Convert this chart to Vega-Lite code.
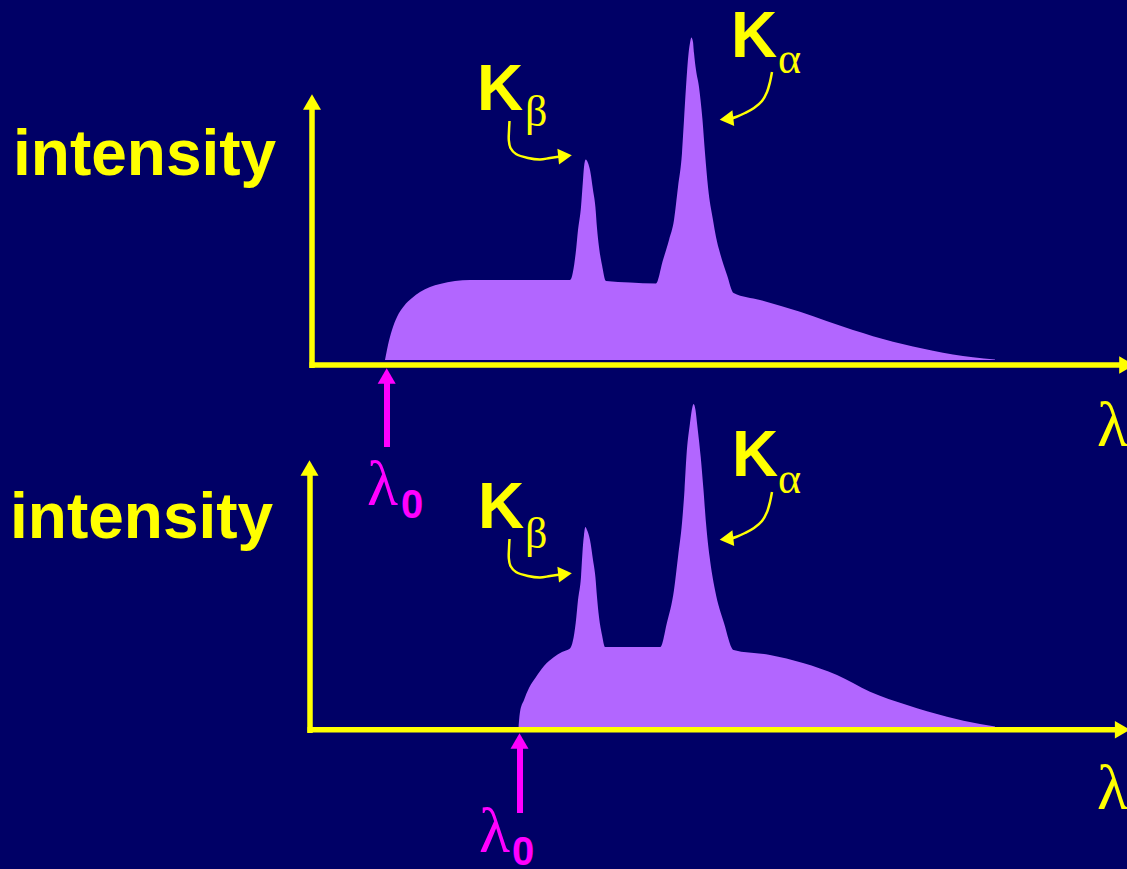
{
  "$schema": "https://vega.github.io/schema/vega-lite/v6.json",
  "width": 1127,
  "height": 869,
  "autosize": {"type": "none"},
  "padding": 0,
  "background": "#000066",
  "config": {"view": {"stroke": null}},
  "encoding": {
    "x": {"field": "x", "type": "quantitative", "scale": {"domain": [0, 1127], "nice": false, "zero": false}, "axis": null},
    "y": {"field": "y", "type": "quantitative", "scale": {"domain": [0, 869], "reverse": true, "nice": false, "zero": false}, "axis": null}
  },
  "layer": [
    {
      "data": {"values": [
        {"x": 385, "y": 360}, {"x": 388, "y": 345}, {"x": 392, "y": 330}, {"x": 397, "y": 317}, {"x": 404, "y": 306},
        {"x": 412, "y": 298}, {"x": 420, "y": 292}, {"x": 430, "y": 287}, {"x": 440, "y": 284}, {"x": 455, "y": 281},
        {"x": 470, "y": 280}, {"x": 500, "y": 280}, {"x": 540, "y": 280}, {"x": 570, "y": 280},
        {"x": 575.7, "y": 253}, {"x": 578, "y": 230}, {"x": 581, "y": 207}, {"x": 583, "y": 180}, {"x": 584, "y": 167},
        {"x": 585.7, "y": 159.5}, {"x": 588, "y": 163}, {"x": 590, "y": 170}, {"x": 593, "y": 190}, {"x": 595.4, "y": 207},
        {"x": 597, "y": 228}, {"x": 599, "y": 247}, {"x": 602, "y": 265}, {"x": 606, "y": 281},
        {"x": 630, "y": 282.5}, {"x": 656, "y": 283.5},
        {"x": 663, "y": 260}, {"x": 669, "y": 240}, {"x": 674, "y": 220}, {"x": 678, "y": 187}, {"x": 682, "y": 153},
        {"x": 684, "y": 120}, {"x": 686, "y": 87}, {"x": 688.6, "y": 53}, {"x": 690, "y": 43}, {"x": 691.4, "y": 37.5},
        {"x": 693, "y": 42}, {"x": 694, "y": 53}, {"x": 696, "y": 70}, {"x": 699, "y": 87}, {"x": 702.5, "y": 120},
        {"x": 705, "y": 153}, {"x": 708, "y": 187}, {"x": 713, "y": 220}, {"x": 716, "y": 237}, {"x": 720, "y": 253},
        {"x": 727, "y": 275}, {"x": 733.6, "y": 293},
        {"x": 760, "y": 300}, {"x": 800, "y": 311.7}, {"x": 853, "y": 330}, {"x": 893, "y": 341.7}, {"x": 933, "y": 350.7},
        {"x": 973, "y": 357.3}, {"x": 995, "y": 359.5}
      ]},
      "mark": {"type": "area", "color": "#B266FF", "opacity": 1, "interpolate": "monotone"},
      "encoding": {"y2": {"datum": 360}}
    },
    {
      "data": {"values": [
        {"x": 518.6, "y": 727}, {"x": 520, "y": 712}, {"x": 524, "y": 700}, {"x": 529, "y": 688}, {"x": 536, "y": 677},
        {"x": 544, "y": 666}, {"x": 554, "y": 657}, {"x": 562, "y": 652}, {"x": 570, "y": 648.5},
        {"x": 575.7, "y": 623}, {"x": 578, "y": 600}, {"x": 581, "y": 577}, {"x": 583, "y": 545}, {"x": 584, "y": 535},
        {"x": 585.4, "y": 527}, {"x": 587, "y": 530}, {"x": 590, "y": 540}, {"x": 593, "y": 560}, {"x": 595.4, "y": 577},
        {"x": 597, "y": 597}, {"x": 599, "y": 617}, {"x": 602, "y": 635}, {"x": 605, "y": 647},
        {"x": 630, "y": 647}, {"x": 660.4, "y": 647},
        {"x": 666.8, "y": 623.3}, {"x": 674, "y": 590}, {"x": 678, "y": 557}, {"x": 682, "y": 523}, {"x": 684.5, "y": 490},
        {"x": 686.4, "y": 456.7}, {"x": 690, "y": 423}, {"x": 691.8, "y": 410}, {"x": 693.6, "y": 404},
        {"x": 695.5, "y": 410}, {"x": 697, "y": 423}, {"x": 700.7, "y": 456.7}, {"x": 703.5, "y": 490}, {"x": 706, "y": 523},
        {"x": 709.6, "y": 556.7}, {"x": 715, "y": 590}, {"x": 724, "y": 623}, {"x": 733.6, "y": 650},
        {"x": 770, "y": 655}, {"x": 803, "y": 663}, {"x": 837, "y": 675}, {"x": 870, "y": 691.7}, {"x": 907, "y": 705},
        {"x": 947, "y": 716.7}, {"x": 980, "y": 724}, {"x": 995, "y": 726.5}
      ]},
      "mark": {"type": "area", "color": "#B266FF", "opacity": 1, "interpolate": "monotone"},
      "encoding": {"y2": {"datum": 727}}
    },
    {
      "data": {"values": [
        {"x": 312, "y": 368, "x2": 312, "y2": 106},
        {"x": 309.5, "y": 365, "x2": 1122, "y2": 365},
        {"x": 310, "y": 733, "x2": 310, "y2": 472},
        {"x": 307.5, "y": 729.7, "x2": 1117, "y2": 729.7}
      ]},
      "mark": {"type": "rule", "color": "#FFFF00", "strokeWidth": 5.5},
      "encoding": {"x2": {"field": "x2"}, "y2": {"field": "y2"}}
    },
    {
      "data": {"values": [
        {"x": 312, "y": 102},
        {"x": 309.5, "y": 468}
      ]},
      "mark": {"type": "point", "shape": "triangle-up", "filled": true, "size": 324, "color": "#FFFF00", "opacity": 1, "strokeWidth": 0}
    },
    {
      "data": {"values": [
        {"x": 1126.8, "y": 365},
        {"x": 1122.5, "y": 729.7}
      ]},
      "mark": {"type": "point", "shape": "triangle-right", "filled": true, "size": 310, "color": "#FFFF00", "opacity": 1, "strokeWidth": 0}
    },
    {
      "data": {"values": [
        {"x": 387, "y": 447, "x2": 387, "y2": 378},
        {"x": 520, "y": 813, "x2": 520, "y2": 744}
      ]},
      "mark": {"type": "rule", "color": "#FF00FF", "strokeWidth": 6},
      "encoding": {"x2": {"field": "x2"}, "y2": {"field": "y2"}}
    },
    {
      "data": {"values": [
        {"x": 386.7, "y": 376},
        {"x": 519.5, "y": 741}
      ]},
      "mark": {"type": "point", "shape": "triangle-up", "filled": true, "size": 324, "color": "#FF00FF", "opacity": 1, "strokeWidth": 0}
    },
    {
      "data": {"values": [
        {"id": "b1", "o": 1, "x": 509.5, "y": 121}, {"id": "b1", "o": 2, "x": 509, "y": 131}, {"id": "b1", "o": 3, "x": 508.8, "y": 140},
        {"id": "b1", "o": 4, "x": 510.5, "y": 148}, {"id": "b1", "o": 5, "x": 516, "y": 154}, {"id": "b1", "o": 6, "x": 528, "y": 158},
        {"id": "b1", "o": 7, "x": 540, "y": 159.5}, {"id": "b1", "o": 8, "x": 550, "y": 158}, {"id": "b1", "o": 9, "x": 562, "y": 156.3},
        {"id": "a1", "o": 1, "x": 772, "y": 72}, {"id": "a1", "o": 2, "x": 770, "y": 82}, {"id": "a1", "o": 3, "x": 767, "y": 92},
        {"id": "a1", "o": 4, "x": 762, "y": 101}, {"id": "a1", "o": 5, "x": 754, "y": 108}, {"id": "a1", "o": 6, "x": 745, "y": 113},
        {"id": "a1", "o": 7, "x": 736, "y": 117}, {"id": "a1", "o": 8, "x": 728, "y": 119.5},
        {"id": "b2", "o": 1, "x": 509.5, "y": 539}, {"id": "b2", "o": 2, "x": 509, "y": 549}, {"id": "b2", "o": 3, "x": 508.8, "y": 558},
        {"id": "b2", "o": 4, "x": 510.5, "y": 566}, {"id": "b2", "o": 5, "x": 516, "y": 572}, {"id": "b2", "o": 6, "x": 528, "y": 576},
        {"id": "b2", "o": 7, "x": 540, "y": 577.5}, {"id": "b2", "o": 8, "x": 550, "y": 576}, {"id": "b2", "o": 9, "x": 562, "y": 574.3},
        {"id": "a2", "o": 1, "x": 772, "y": 492}, {"id": "a2", "o": 2, "x": 770, "y": 502}, {"id": "a2", "o": 3, "x": 767, "y": 512},
        {"id": "a2", "o": 4, "x": 762, "y": 521}, {"id": "a2", "o": 5, "x": 754, "y": 528}, {"id": "a2", "o": 6, "x": 745, "y": 533},
        {"id": "a2", "o": 7, "x": 736, "y": 537}, {"id": "a2", "o": 8, "x": 728, "y": 539.5}
      ]},
      "mark": {"type": "line", "color": "#FFFF00", "strokeWidth": 2.5, "interpolate": "catmull-rom"},
      "encoding": {"detail": {"field": "id"}, "order": {"field": "o", "type": "quantitative"}}
    },
    {
      "data": {"values": [
        {"x": 565, "y": 156},
        {"x": 565, "y": 574}
      ]},
      "mark": {"type": "point", "shape": "triangle-right", "filled": true, "size": 250, "angle": -6, "color": "#FFFF00", "opacity": 1, "strokeWidth": 0}
    },
    {
      "data": {"values": [
        {"x": 726.5, "y": 119},
        {"x": 726.5, "y": 539}
      ]},
      "mark": {"type": "point", "shape": "triangle-left", "filled": true, "size": 250, "angle": -6.5, "color": "#FFFF00", "opacity": 1, "strokeWidth": 0}
    },
    {
      "data": {"values": [
        {"t": "intensity", "x": 13, "y": 175},
        {"t": "intensity", "x": 10, "y": 538},
        {"t": "K", "x": 477, "y": 110},
        {"t": "K", "x": 731, "y": 57},
        {"t": "K", "x": 478, "y": 528},
        {"t": "K", "x": 732, "y": 476}
      ]},
      "mark": {"type": "text", "align": "left", "baseline": "alphabetic", "font": "Liberation Sans", "fontWeight": "bold", "fontSize": 64, "color": "#FFFF00"},
      "encoding": {"text": {"field": "t"}}
    },
    {
      "data": {"values": [
        {"t": "β", "x": 525, "y": 126},
        {"t": "α", "x": 778, "y": 73},
        {"t": "β", "x": 525, "y": 548},
        {"t": "α", "x": 778, "y": 493}
      ]},
      "mark": {"type": "text", "align": "left", "baseline": "alphabetic", "font": "Liberation Serif", "fontSize": 44, "color": "#FFFF00"},
      "encoding": {"text": {"field": "t"}}
    },
    {
      "data": {"values": [
        {"t": "λ", "x": 367, "y": 505},
        {"t": "λ", "x": 479, "y": 852}
      ]},
      "mark": {"type": "text", "align": "left", "baseline": "alphabetic", "font": "Liberation Serif", "fontSize": 64, "color": "#FF00FF"},
      "encoding": {"text": {"field": "t"}}
    },
    {
      "data": {"values": [
        {"t": "0", "x": 401, "y": 518},
        {"t": "0", "x": 512, "y": 865}
      ]},
      "mark": {"type": "text", "align": "left", "baseline": "alphabetic", "font": "Liberation Sans", "fontWeight": "bold", "fontSize": 40, "color": "#FF00FF"},
      "encoding": {"text": {"field": "t"}}
    },
    {
      "data": {"values": [
        {"t": "λ", "x": 1097, "y": 446},
        {"t": "λ", "x": 1097, "y": 809}
      ]},
      "mark": {"type": "text", "align": "left", "baseline": "alphabetic", "font": "Liberation Serif", "fontSize": 64, "color": "#FFFF00"},
      "encoding": {"text": {"field": "t"}}
    }
  ]
}
